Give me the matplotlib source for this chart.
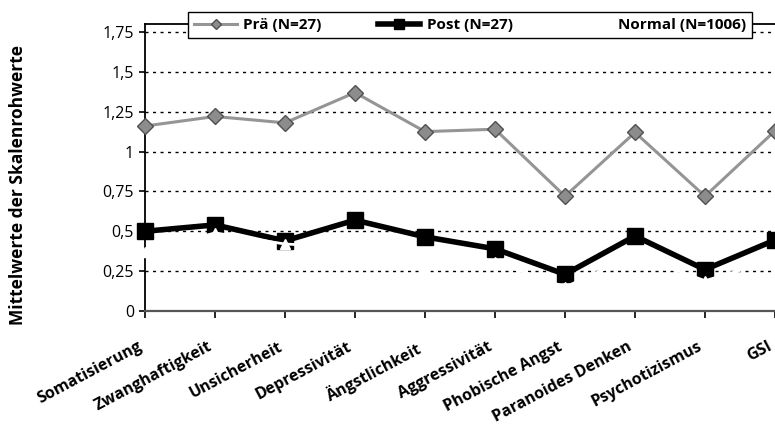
import matplotlib
matplotlib.use("Agg")
import matplotlib.pyplot as plt
from matplotlib.ticker import FuncFormatter

plt.rcParams['font.family'] = ['Open Sans', 'DejaVu Sans']

categories = ["Somatisierung", "Zwanghaftigkeit", "Unsicherheit", "Depressivität",
              "Ängstlichkeit", "Aggressivität", "Phobische Angst", "Paranoides Denken",
              "Psychotizismus", "GSI"]
pre = [1.16, 1.22, 1.18, 1.37, 1.125, 1.14, 0.72, 1.12, 0.72, 1.13]
post = [0.50, 0.54, 0.44, 0.57, 0.465, 0.39, 0.23, 0.47, 0.26, 0.445]
normal = [0.37, 0.49, 0.42, 0.40, 0.27, 0.31, 0.15, 0.35, 0.19, 0.32]
labels = ["Prä (N=27)", "Post (N=27)", "Normal (N=1006)"]
yticks = [0, 0.25, 0.5, 0.75, 1.0, 1.25, 1.5, 1.75]

fig = plt.figure(figsize=(7.75, 4.28), dpi=100)
W, H = 775, 428
left_px, bottom_px, top_px = 145, 311, 24
step = 70
xmax = 9.4
ax = fig.add_axes([left_px / W, 1 - bottom_px / H, step * xmax / W, (bottom_px - top_px) / H])

x = list(range(len(categories)))
for yv in yticks[1:]:
    ax.axhline(yv, color='black', lw=1.0, ls=(0, (2.2, 3.2)), zorder=1)

l1, = ax.plot(x, pre, color='#959595', lw=2.2, marker='D', markersize=8,
              markerfacecolor='#8c8c8c', markeredgecolor='#505050', markeredgewidth=1.0,
              zorder=3, clip_on=False)
l2, = ax.plot(x, post, color='black', lw=4.0, marker='s', markersize=12,
              markerfacecolor='black', markeredgecolor='black', zorder=4, clip_on=False)
l3, = ax.plot(x, normal, color='white', lw=2.0, marker='^', markersize=7,
              markerfacecolor='white', markeredgecolor='white', zorder=5, clip_on=False)

ax.set_xlim(0, xmax)
ax.set_ylim(0, 1.8)
ax.set_yticks(yticks)
ax.yaxis.set_major_formatter(FuncFormatter(
    lambda v, p: ("%g" % v).replace('.', ',')))
ax.set_xticks(x)
ax.set_xticklabels(categories, rotation=28, ha='right', fontweight='bold', fontsize=11.5)
ax.tick_params(axis='x', length=5, width=1.2, pad=15)
ax.tick_params(axis='y', length=4, width=1.2, labelsize=11.5, pad=4)

ax.spines['right'].set_visible(False)
ax.spines['left'].set_linewidth(1.3)
ax.spines['top'].set_linewidth(1.3)
ax.spines['bottom'].set_linewidth(1.6)
ax.spines['bottom'].set_color('#555555')

fig.text(18 / W, 1 - 185 / H, "Mittelwerte der Skalenrohwerte", rotation=90,
         ha='center', va='center', fontsize=12.5, fontweight='bold')

leg = fig.legend([l1, l2, l3], labels, ncol=3, loc='lower left',
                 bbox_to_anchor=(188 / W, 1 - 38 / H, (752 - 188) / W, 31 / H),
                 mode='expand', frameon=True, fancybox=False, framealpha=1,
                 edgecolor='black', prop={'weight': 'bold', 'size': 11},
                 handlelength=2.8, handletextpad=0.4, borderaxespad=0, columnspacing=1.0,
                 markerscale=0.6)
leg.get_frame().set_linewidth(1.0)
leg.set_zorder(10)

fig.savefig("out.png", dpi=100)
